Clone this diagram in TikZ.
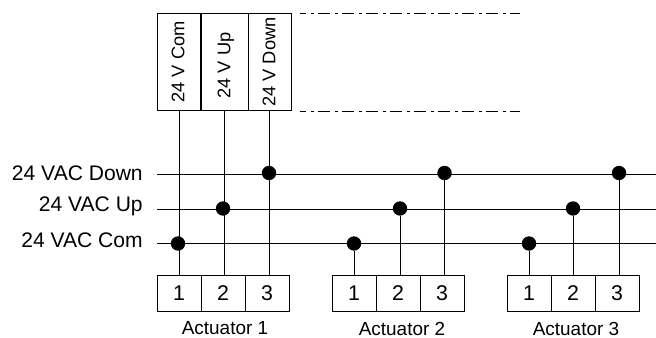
\documentclass[tikz,border=0pt]{standalone}
\usepackage{fontspec}
\setmainfont{Liberation Sans}
\begin{document}
\begin{tikzpicture}[x=.75pt,y=-.75pt]

\tikzset{mybox/.style={rectangle,draw,line width=.7pt,inner sep=0pt,minimum height=27pt,minimum width=33pt,font=\fontsize{16}{16}\selectfont},}
\tikzset{mytop/.style={rectangle,draw,line width=.7pt,inner sep=0pt,minimum height=73pt},}
\tikzset{mytext/.style={rotate=90,inner sep=0pt,font=\fontsize{13.7}{14}\selectfont},}
\tikzset{mybus/.style={anchor=east,inner sep=0pt,font=\fontsize{15.8}{16}\selectfont},}
\tikzset{mycap/.style={inner sep=0pt,font=\fontsize{14.2}{15}\selectfont},}
\tikzset{mydot/.style={circle,fill=black,minimum size=10.8pt,inner sep=0pt},}
\tikzset{mywire/.style={line width=.7pt},}
\tikzset{mychain/.style={line width=.7pt,dash pattern=on 9pt off 3.4pt on 2.6pt off 3pt,dash phase=4.5pt},}

\useasboundingbox (0,0) rectangle (656,338);

%RELAY BOARD
\draw (179,62) node [mytop,minimum width=32.6pt] (com) {};
\draw (224.5,62) node [mytop,minimum width=35.2pt] (up) {};
\draw (270,62) node [mytop,minimum width=32.6pt] (down) {};
\draw (178,62) node [mytext] (comtext) {24 V Com};
\draw (226,65.5) node [mytext] (uptext) {24 V Up};
\draw (269,62) node [mytext] (downtext) {24 V Down};
\coordinate (chain1) at (300,13.5);
\coordinate (chain2) at (520,13.5);
\coordinate (chain3) at (300,111);
\coordinate (chain4) at (520,111);
\draw[mychain] (chain1) -- (chain2);
\draw[mychain] (chain3) -- (chain4);

%BUS
\draw (143,173) node [mybus] (buslabel1) {24 VAC Down};
\draw (143,206.5) node [mybus] (buslabel2) {24 VAC Up};
\draw (143,240) node [mybus] (buslabel3) {24 VAC Com};
\coordinate (bus1a) at (157,174);
\coordinate (bus1b) at (656,174);
\coordinate (bus2a) at (157,209);
\coordinate (bus2b) at (656,209);
\coordinate (bus3a) at (157,243.5);
\coordinate (bus3b) at (656,243.5);
\draw[mywire] (bus1a) -- (bus1b);
\draw[mywire] (bus2a) -- (bus2b);
\draw[mywire] (bus3a) -- (bus3b);

%ACTUATOR 1
\draw (179,293) node [mybox] (a1) {1};
\draw (223,293) node [mybox] (a2) {2};
\draw (267,293) node [mybox] (a3) {3};
\draw (225,328.5) node [mycap] (cap1) {Actuator 1};
\draw (178,243.5) node [mydot] (d1) {};
\draw (223,208.5) node [mydot] (d2) {};
\draw (269,173) node [mydot] (d3) {};
\draw[mywire] (com.south) -- (com.south |- a1.north);
\draw[mywire] (up.south) -- (up.south |- a2.north);
\draw[mywire] (d3 |- down.south) -- (d3 |- a3.north);

%ACTUATOR 2
\draw (354,293) node [mybox] (b1) {1};
\draw (398,293) node [mybox] (b2) {2};
\draw (442,293) node [mybox] (b3) {3};
\draw (402,328.5) node [mycap] (cap2) {Actuator 2};
\draw (354,243.5) node [mydot] (e1) {};
\draw (400,208.5) node [mydot] (e2) {};
\draw (444.5,173) node [mydot] (e3) {};
\draw[mywire] (e1) -- (e1 |- b1.north);
\draw[mywire] (e2) -- (e2 |- b2.north);
\draw[mywire] (e3) -- (e3 |- b3.north);

%ACTUATOR 3
\draw (529,293) node [mybox] (c1) {1};
\draw (573,293) node [mybox] (c2) {2};
\draw (617,293) node [mybox] (c3) {3};
\draw (576,328.5) node [mycap] (cap3) {Actuator 3};
\draw (529,243.5) node [mydot] (f1) {};
\draw (573,208.5) node [mydot] (f2) {};
\draw (619,173) node [mydot] (f3) {};
\draw[mywire] (f1) -- (f1 |- c1.north);
\draw[mywire] (f2) -- (f2 |- c2.north);
\draw[mywire] (f3) -- (f3 |- c3.north);

\end{tikzpicture}
\end{document}
